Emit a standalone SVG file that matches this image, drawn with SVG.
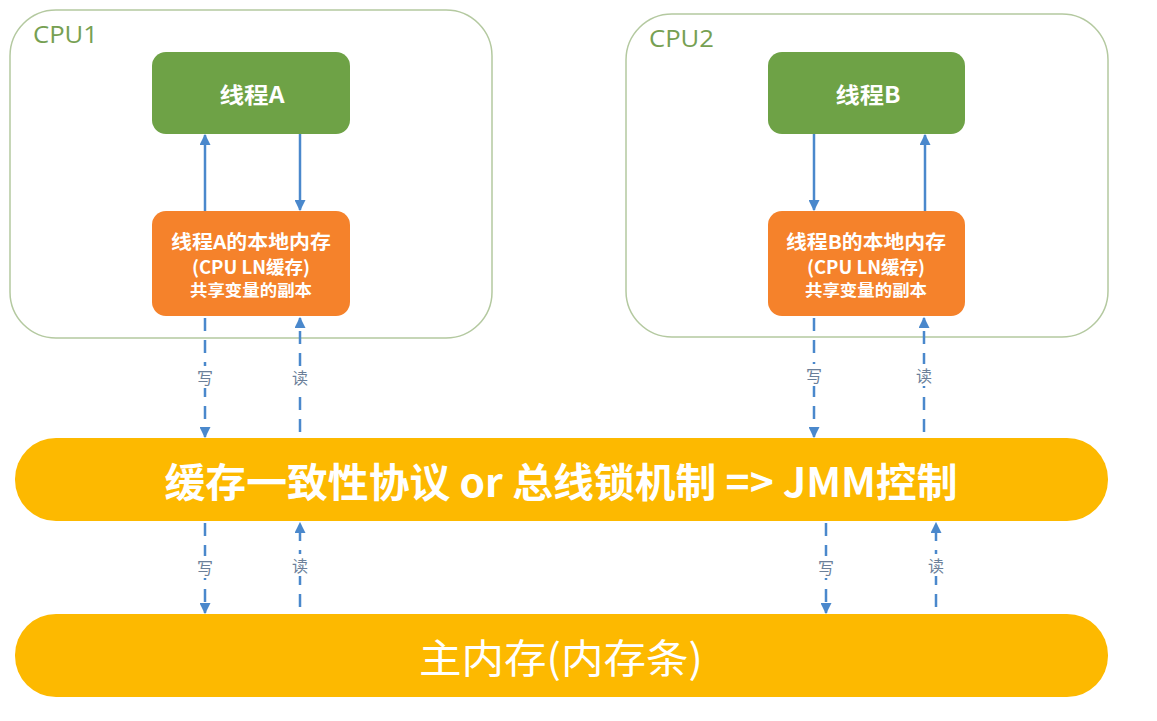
<svg xmlns="http://www.w3.org/2000/svg" width="1157" height="721" viewBox="0 0 1157 721">
<defs>
<marker id="ah" viewBox="0 0 10 10" refX="9" refY="5" markerWidth="4.4" markerHeight="4.4" orient="auto" markerUnits="strokeWidth">
<path d="M0,0 L10,5 L0,10 z" fill="#4a88cc"/>
</marker>
<style>
.cpu{fill:#fff;stroke:#b4c9a0;stroke-width:1.5}
.cpul{font-family:"Open Sans","Noto Sans",sans-serif;font-size:24px;fill:#76a052}
.thr{fill:#6ea246}
.loc{fill:#f5822b}
.bar{fill:#fdb900}
.t{font-family:"Noto Sans CJK SC",sans-serif;fill:#fff;text-anchor:middle}
.ln{stroke:#4a88cc;stroke-width:2.5;fill:none;marker-end:url(#ah)}
.dl{stroke:#4a88cc;stroke-width:2.5;fill:none;stroke-dasharray:13 9;marker-end:url(#ah)}
.lb{font-family:"Noto Sans CJK SC",sans-serif;font-size:16px;fill:#6b7f99;text-anchor:middle}
</style>
</defs>
<rect width="1157" height="721" fill="#fff"/>
<g id="cpu1"><rect class="cpu" x="10" y="10" width="482" height="328" rx="46"/><text class="cpul" x="33" y="43" textLength="65" lengthAdjust="spacingAndGlyphs">CPU1</text></g>
<g id="cpu2"><rect class="cpu" x="626" y="14" width="482" height="323" rx="46"/><text class="cpul" x="649" y="47" textLength="65" lengthAdjust="spacingAndGlyphs">CPU2</text></g>
<g id="threadA"><rect class="thr" x="152" y="52" width="198" height="82" rx="14"/><text class="t" x="252" y="103" font-size="22" font-weight="bold" textLength="65" lengthAdjust="spacingAndGlyphs">线程A</text></g>
<g id="threadB"><rect class="thr" x="768" y="52" width="197" height="82" rx="14"/><text class="t" x="868" y="103" font-size="22" font-weight="bold" textLength="65" lengthAdjust="spacingAndGlyphs">线程B</text></g>
<g id="localA"><rect class="loc" x="152" y="211" width="198" height="105" rx="14"/>
<text class="t" x="251" y="249" font-size="19" font-weight="bold" textLength="160" lengthAdjust="spacingAndGlyphs">线程A的本地内存</text>
<text class="t" x="251" y="274" font-size="18" font-weight="bold" textLength="118" lengthAdjust="spacingAndGlyphs">(CPU LN缓存)</text>
<text class="t" x="251" y="296" font-size="16" font-weight="bold" textLength="122" lengthAdjust="spacingAndGlyphs">共享变量的副本</text></g>
<g id="localB"><rect class="loc" x="768" y="211" width="197" height="105" rx="14"/>
<text class="t" x="866" y="249" font-size="19" font-weight="bold" textLength="160" lengthAdjust="spacingAndGlyphs">线程B的本地内存</text>
<text class="t" x="866" y="274" font-size="18" font-weight="bold" textLength="118" lengthAdjust="spacingAndGlyphs">(CPU LN缓存)</text>
<text class="t" x="866" y="296" font-size="16" font-weight="bold" textLength="122" lengthAdjust="spacingAndGlyphs">共享变量的副本</text></g>
<g id="bus"><rect class="bar" x="15" y="438" width="1093" height="83" rx="41"/><text class="t" x="561" y="497" font-size="40" font-weight="bold" textLength="793" lengthAdjust="spacingAndGlyphs">缓存一致性协议 or 总线锁机制 =&gt; JMM控制</text></g>
<g id="mainmem"><rect class="bar" x="15" y="614" width="1093" height="83" rx="41"/><text class="t" x="561" y="673" font-size="40" textLength="284" lengthAdjust="spacingAndGlyphs">主内存(内存条)</text></g>
<g id="connectors">
<line class="ln" x1="205" y1="211" x2="205" y2="135"/>
<line class="ln" x1="300" y1="134" x2="300" y2="210"/>
<line class="ln" x1="814" y1="134" x2="814" y2="210"/>
<line class="ln" x1="925" y1="211" x2="925" y2="135"/>
<line class="dl" x1="205" y1="318" x2="205" y2="437"/>
<line class="dl" x1="300" y1="432" x2="300" y2="318"/>
<line class="dl" x1="814" y1="318" x2="814" y2="437"/>
<line class="dl" x1="924" y1="432" x2="924" y2="318"/>
<line class="dl" x1="205" y1="523" x2="205" y2="613"/>
<line class="dl" x1="300" y1="607" x2="300" y2="523"/>
<line class="dl" x1="826" y1="523" x2="826" y2="613"/>
<line class="dl" x1="936" y1="607" x2="936" y2="523"/>
</g>
<g id="labels">
<rect x="195" y="366" width="20" height="22" fill="#fff"/><text class="lb" x="205" y="384">写</text>
<rect x="290" y="366" width="20" height="22" fill="#fff"/><text class="lb" x="300" y="384">读</text>
<rect x="804" y="364" width="20" height="22" fill="#fff"/><text class="lb" x="814" y="382">写</text>
<rect x="914" y="364" width="20" height="22" fill="#fff"/><text class="lb" x="924" y="382">读</text>
<rect x="195" y="556" width="20" height="22" fill="#fff"/><text class="lb" x="205" y="574">写</text>
<rect x="290" y="554" width="20" height="22" fill="#fff"/><text class="lb" x="300" y="572">读</text>
<rect x="816" y="556" width="20" height="22" fill="#fff"/><text class="lb" x="826" y="574">写</text>
<rect x="926" y="554" width="20" height="22" fill="#fff"/><text class="lb" x="936" y="572">读</text>
</g>
</svg>
